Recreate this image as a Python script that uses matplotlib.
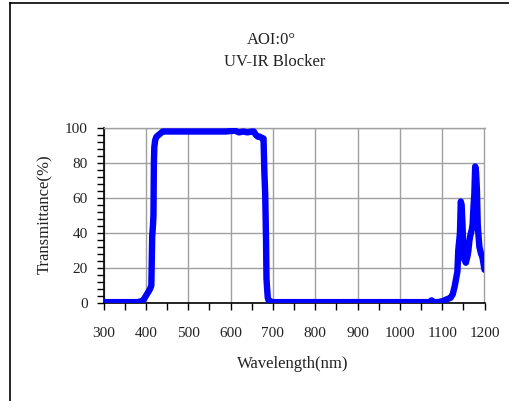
import matplotlib
matplotlib.use("Agg")
import matplotlib.pyplot as plt
from matplotlib.lines import Line2D
from matplotlib.ticker import MultipleLocator

wavelength = [300, 320, 350, 380, 390, 395, 400, 405, 410, 413, 415, 417, 418, 419, 420, 422, 425, 430,
              435, 440, 450, 470, 500, 530, 560, 590, 610, 620, 630, 640, 650, 655, 660, 665, 670, 675,
              678, 680, 682, 684, 685, 686, 688, 690, 693, 700, 720, 800, 900, 1000, 1060, 1070, 1075,
              1080, 1090, 1100, 1110, 1115, 1120, 1125, 1130, 1133, 1136, 1138, 1140, 1142, 1144, 1146,
              1148, 1150, 1152, 1154, 1156, 1158, 1160, 1162, 1164, 1166, 1168, 1170, 1172, 1174, 1176,
              1178, 1180, 1182, 1184, 1186, 1188, 1190, 1192, 1194, 1196, 1198, 1200]
transmittance = [0.5, 0.5, 0.5, 0.5, 1, 2, 4, 6, 8, 10, 38, 45, 50, 80, 89, 93, 95, 96,
                 97, 98, 98, 98, 98, 98, 98, 98, 98.5, 97.5, 98, 97.5, 98, 98, 96, 95, 95, 94,
                 94, 75, 62, 35, 14, 10, 3, 1.5, 1, 0.5, 0.5, 0.5, 0.5, 0.5, 0.5, 0.5, 1.5,
                 0.5, 0.5, 1, 2, 2.5, 3, 5, 10, 14, 18, 30, 35, 40, 58, 56,
                 45, 30, 25, 24, 23, 25, 27, 30, 35, 38, 40, 42, 45, 55, 62,
                 78, 75, 65, 45, 38, 32, 30, 28, 27, 25, 22, 19]

xticks = [300, 400, 500, 600, 700, 800, 900, 1000, 1100, 1200]
yticks = [0, 20, 40, 60, 80, 100]

font = ["Liberation Serif", "DejaVu Serif"]
plt.rcParams["font.family"] = font

W, H = 509, 401
fig = plt.figure(figsize=(W / 100, H / 100), dpi=100)
fig.patch.set_facecolor("white")

left, right, top, bottom = 103.5, 484.5, 128, 303
ax = fig.add_axes([left / W, 1 - bottom / H, (right - left) / W, (bottom - top) / H])

ax.plot(wavelength, transmittance, color="#0000ff", lw=4.6, solid_capstyle="round",
        solid_joinstyle="round", zorder=3)

ax.set_xlim(300, 1200)
ax.set_ylim(0, 100)
ax.set_xticks(xticks)
ax.set_yticks(yticks)
ax.xaxis.set_minor_locator(MultipleLocator(50))
ax.yaxis.set_minor_locator(MultipleLocator(4))
ax.grid(True, which="major", color="#a0a0a0", lw=1.0)
ax.set_axisbelow(True)
for s in ["top", "right"]:
    ax.spines[s].set_color("#a0a0a0")
    ax.spines[s].set_linewidth(1.0)
for s in ["left", "bottom"]:
    ax.spines[s].set_color("black")
    ax.spines[s].set_linewidth(1.2)
ax.tick_params(which="both", direction="out", length=5, width=1.0, color="black",
               labelsize=11, labelcolor="#222222")
ax.tick_params(axis="x", which="major", pad=12)
ax.tick_params(axis="y", which="major", pad=6.5)
ax.tick_params(top=False, right=False, which="both")

tsize = 12
fig.text(271 / W, 1 - 40 / H, "AOI:0°", ha="center", va="center", fontsize=tsize, color="#222222")
fig.text(275 / W, 1 - 62 / H, "UV-IR Blocker", ha="center", va="center", fontsize=tsize, color="#222222")
fig.text(293 / W, 1 - 364 / H, "Wavelength(nm)", ha="center", va="center", fontsize=tsize, color="#222222")
fig.text(45 / W, 1 - 214 / H, "Transmittance(%)", ha="center", va="center", rotation=90,
         fontsize=tsize, color="#222222")

# figure border (left and top edges visible)
fig.add_artist(Line2D([9.5 / W, 9.5 / W], [0, 1 - 3 / H], transform=fig.transFigure, color="black", lw=1.2))
fig.add_artist(Line2D([9.5 / W, 1], [1 - 3 / H, 1 - 3 / H], transform=fig.transFigure, color="black", lw=1.2))

fig.savefig("out.png", dpi=100, facecolor="white")
